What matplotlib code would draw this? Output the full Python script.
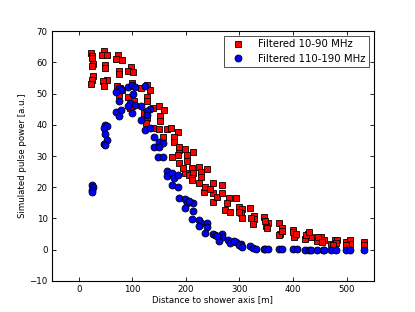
import numpy as np
import matplotlib
matplotlib.use("Agg")
import matplotlib.pyplot as plt

# --- data, grouped roughly by antenna distance --------------------------------

# Filtered 10-90 MHz (red squares)
low_x = [
    23, 25, 24, 27, 25, 26, 24, 23,
    48, 44, 52, 50, 49, 52, 46, 48,
    74, 70, 80, 76, 76, 72, 78, 80, 75,
    98, 92, 102, 100, 92, 104, 100, 96,
    117, 127, 133, 127, 127, 122, 127, 125,
    139, 150, 160, 152, 152, 139, 158, 150,
    164, 173, 186, 177, 177, 188, 174, 186,
    198, 202, 188, 202, 198, 188, 195, 205,
    213, 211, 213, 211, 211,
    225, 228, 228, 225, 234, 236,
    240, 250, 250, 251, 258, 245,
    267, 280, 276, 273, 283, 268,
    294, 300, 305, 303, 305, 300,
    320, 327, 328, 325, 322,
    346, 354, 350, 351, 348,
    373, 380, 376, 374, 380,
    400, 404, 401, 400, 406,
    423, 427, 433, 425, 430,
    445, 452, 457, 446, 454,
    470, 478, 482, 480, 475,
    499, 506, 507, 499,
    533, 533,
]
low_y = [
    63.0, 62.0, 61.5, 59.5, 58.8, 55.5, 54.5, 53.0,
    63.8, 62.3, 62.5, 59.3, 58.3, 54.4, 54.0, 52.3,
    62.3, 61.0, 60.8, 57.3, 56.4, 52.5, 51.8, 51.3, 49.7,
    58.5, 57.1, 56.8, 53.4, 49.0, 47.5, 46.0, 45.3,
    51.8, 52.9, 51.0, 49.0, 47.5, 43.8, 42.2, 40.7,
    45.4, 45.9, 44.9, 42.7, 41.1, 38.9, 36.2, 38.5,
    38.7, 39.1, 37.8, 36.2, 34.6, 31.9, 29.6, 30.3,
    32.3, 30.3, 33.0, 28.5, 24.5, 27.7, 26.0, 24.0,
    31.4, 26.3, 24.6, 22.8, 22.3,
    26.6, 25.0, 23.2, 21.4, 18.5, 20.1,
    25.7, 21.2, 18.2, 15.3, 16.9, 19.5,
    20.7, 16.4, 14.8, 12.6, 11.9, 18.0,
    16.6, 13.7, 12.9, 11.6, 10.0, 12.1,
    13.2, 10.7, 9.7, 8.1, 10.0,
    10.5, 8.6, 7.5, 6.8, 9.2,
    8.4, 6.8, 5.1, 4.6, 6.0,
    6.4, 4.6, 3.9, 5.7, 5.1,
    3.5, 5.1, 3.9, 4.6, 5.7,
    2.8, 4.1, 3.0, 3.9, 2.4,
    1.9, 3.2, 3.2, 2.1, 1.4,
    2.4, 3.0, 1.7, 1.6,
    2.4, 1.4,
]

# Filtered 110-190 MHz (blue circles)
high_x = [
    24, 26, 24, 25,
    50, 53, 47, 50, 52, 47, 50,
    75, 79, 70, 75, 70, 79, 75,
    92, 99, 105, 101, 96, 105, 92, 100,
    117, 124, 133, 127, 127, 117, 123, 133,
    140, 150, 158, 140, 150, 148, 158,
    164, 164, 175, 177, 175, 186, 186,
    188, 198, 202, 213, 198, 213, 205,
    211, 225, 228, 240, 225, 240, 236,
    250, 254, 267, 267, 261, 258,
    278, 283, 294, 290,
    303, 303, 300, 305,
    320, 326, 330,
    345, 348, 354,
    373, 380,
    400, 408,
    423, 429, 433,
    445, 455, 457,
    470, 480,
    498, 507,
    532,
]
high_y = [
    20.7, 20.0, 19.0, 18.5,
    40.0, 39.5, 39.0, 37.0, 35.2, 33.9, 33.4,
    51.8, 51.2, 50.5, 47.6, 44.0, 44.6, 42.7,
    52.1, 52.9, 52.0, 50.0, 47.0, 46.4, 45.9, 43.8,
    46.0, 52.3, 45.0, 44.3, 43.0, 41.4, 38.2, 38.9,
    36.0, 34.6, 34.1, 33.0, 33.0, 29.6, 29.6,
    25.2, 23.6, 24.5, 22.8, 20.7, 23.9, 20.1,
    16.4, 16.1, 14.8, 15.0, 13.2, 12.4, 15.5,
    9.7, 9.4, 8.4, 8.6, 7.5, 7.2, 5.4,
    5.1, 4.6, 4.9, 4.0, 2.8, 4.5,
    3.0, 2.1, 2.4, 2.8,
    1.9, 1.0, 1.5, 0.8,
    1.1, 0.5, 0.3,
    0.3, 0.2, 0.2,
    0.1, 0.1,
    0.05, 0.05,
    0.0, 0.0, 0.0,
    0.0, 0.0, 0.0,
    0.0, 0.0,
    0.0, 0.0,
    0.0,
]

labels = ["Filtered 10-90 MHz", "Filtered 110-190 MHz"]

# --- figure ------------------------------------------------------------------

fs = 6.2
fig, ax = plt.subplots(figsize=(4.15, 3.12), dpi=100)
fig.subplots_adjust(left=0.125, right=0.9, bottom=0.1, top=0.9)

ax.plot(low_x, low_y, ls="none", marker="s", ms=4.8, mfc="#ff0000",
        mec="black", mew=0.6, label=labels[0])
ax.plot(high_x, high_y, ls="none", marker="o", ms=5.0, mfc="#0000ff",
        mec="black", mew=0.6, label=labels[1])

ax.set_xlim(-50, 550)
ax.set_ylim(-10, 70)
ax.set_xticks(np.arange(0, 501, 100))
ax.set_yticks(np.arange(-10, 71, 10))
ax.tick_params(direction="in", top=True, right=True, length=3, width=0.6,
               labelsize=fs, pad=3)
for sp in ax.spines.values():
    sp.set_linewidth(0.8)

ax.set_xlabel("Distance to shower axis [m]", fontsize=fs, labelpad=0.5)
ax.set_ylabel("Simulated pulse power [a.u.]", fontsize=fs, labelpad=1.5)

leg = ax.legend(loc="upper right", numpoints=1, fontsize=7.3, fancybox=False,
                borderaxespad=0.45, handletextpad=1.0, borderpad=0.35,
                labelspacing=0.45, handlelength=2.0)
leg.get_frame().set_edgecolor("black")
leg.get_frame().set_linewidth(0.6)

plt.savefig("out.png", dpi=100)
